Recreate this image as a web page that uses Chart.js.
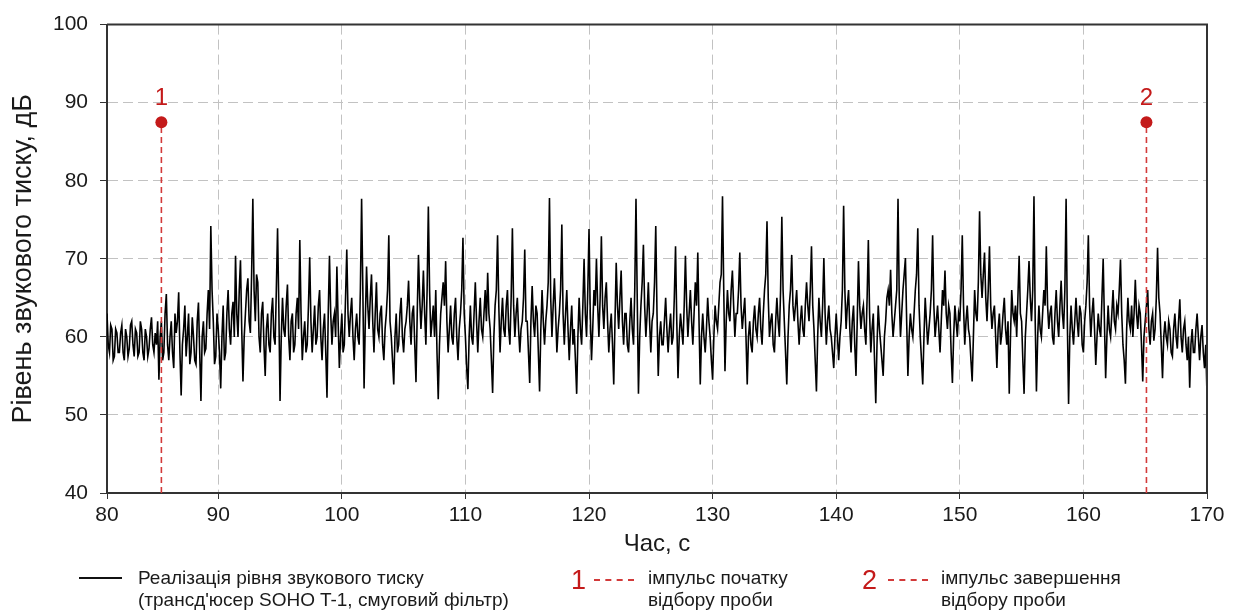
<!DOCTYPE html>
<html>
<head>
<meta charset="utf-8">
<script src="https://cdn.jsdelivr.net/npm/chart.js@4.4.1/dist/chart.umd.min.js"></script>
<style>
  html, body { margin: 0; padding: 0; background: #fff; }
  #wrap { position: relative; width: 1239px; height: 615px; font-family: "Liberation Sans", Arial, sans-serif; color: #1a1a1a; }
  #c { position: absolute; left: 0; top: 0; }
  .lg { position: absolute; font-size: 19px; line-height: 22px; white-space: nowrap; }
  .num { position: absolute; color: #c41a1a; font-size: 27px; line-height: 27px; }
  .dash { position: absolute; height: 0; border-top: 2px dashed #d23a3a; }
</style>
</head>
<body>
<div id="wrap">
  <canvas id="c" width="1239" height="615"></canvas>
  <div style="position:absolute; left:79px; top:577px; width:43px; height:2px; background:#111;"></div>
  <div class="lg" style="left:138px; top:567px;">Реалізація рівня звукового тиску<br>(трансд'юсер SOHO T-1, смуговий фільтр)</div>
  <div class="num" style="left:571px; top:567px;">1</div>
  <div class="dash" style="left:594px; top:579px; width:40px;"></div>
  <div class="lg" style="left:648px; top:567px;">імпульс початку<br>відбору проби</div>
  <div class="num" style="left:862px; top:567px;">2</div>
  <div class="dash" style="left:888px; top:579px; width:40px;"></div>
  <div class="lg" style="left:941px; top:567px;">імпульс завершення<br>відбору проби</div>
</div>
<script>
// ---- data ----
const tStart = 81;      // first sample time, s
const tStep = 0.1;      // sampling step, s
const splValues = [
  63, 59, 58, 61.5, 61, 57, 57.5, 61, 60.5, 58,
  58, 60.5, 61.5, 58, 57, 61, 60, 57.5, 58.5, 61.5,
  62, 59, 57.5, 61, 60.5, 57.5, 58, 62, 61, 58,
  57, 61, 60, 57.5, 58.5, 61, 62.5, 59, 58, 60.5,
  59, 62, 54.5, 60, 62, 57, 58, 63, 65.5, 59,
  57, 60, 62, 58, 56, 63, 60.5, 62, 65.7, 58,
  52.5, 59, 61, 64, 57.5, 60, 63, 56.5, 58, 62.5,
  60, 57, 56.5, 62, 64.4, 58, 51.8, 60, 62, 58,
  58.5, 63, 66, 61, 74.2, 66, 62, 56.5, 57.5, 63,
  61, 58, 53.4, 60, 64, 57, 58, 63, 66, 61,
  59, 63, 64.5, 60, 70.4, 63, 60, 66, 69.8, 61,
  54.3, 60, 63, 66, 67.5, 62, 60.5, 68, 77.7, 66,
  62, 68, 67, 60, 58, 63, 64.5, 59, 55, 61,
  63, 59, 58, 63, 65, 60, 59, 66, 73.9, 64,
  51.8, 60, 65, 61, 60, 64, 66.7, 60, 57, 62,
  63, 58, 59, 63, 65, 61, 72.4, 63, 57, 60,
  62, 58, 59, 64, 70.2, 62, 58, 61, 64, 59,
  60, 64, 66, 60, 57, 61, 63, 58, 52.2, 63,
  70.4, 63, 59, 62, 63, 60, 69, 62, 56, 60,
  63, 58, 59, 65, 71.2, 63, 60, 63, 65, 60,
  57, 61, 63, 60, 59, 66, 77.7, 66, 53.4, 62,
  69, 64, 61, 65, 68, 62, 58, 63, 67, 61,
  60, 63, 64, 59, 57, 61, 63, 66, 73, 62,
  60, 57, 53.9, 60, 63, 58, 59, 63, 65, 60,
  58, 61, 62, 64, 67.2, 62, 59, 63, 64, 59,
  54.2, 63, 70.5, 65, 61, 64, 68.5, 63, 59, 66,
  76.7, 66, 60, 62, 64, 60, 66, 58, 52, 59,
  63, 65, 67, 64, 69.7, 62, 58, 61, 64, 60,
  59, 63, 65, 60, 57, 61, 63, 66, 72.7, 63,
  60, 56, 53.3, 60, 64, 60, 59, 63, 67, 62,
  58, 62, 65, 61, 60, 63, 66, 62, 68.2, 63,
  61, 57, 52.8, 60, 64, 66, 73, 64, 58, 62,
  65, 61, 60, 64, 66, 61, 59, 65, 73.9, 64,
  60, 63, 65, 61, 58, 61, 62, 65, 71.2, 62,
  62, 58, 54.1, 62, 66.5, 62, 60, 64, 63, 58,
  53, 61, 66, 62, 59, 62, 64, 67, 77.8, 65,
  60, 64, 67.5, 63, 58, 61, 63, 66, 74.4, 63,
  59, 63, 66, 61, 57, 61, 64, 59, 61, 57,
  52.7, 60, 65, 61, 59, 64, 70, 63, 60, 66,
  73.8, 63, 57, 61, 66, 64, 70, 64, 60, 65,
  72.9, 64, 61, 65, 67, 62, 58, 61, 63, 59,
  53.9, 62, 69.5, 64, 61, 65, 68.5, 62, 59, 63,
  63, 59, 58, 62, 65, 61, 59, 66, 77.7, 65,
  52.7, 60, 64, 67, 71.8, 64, 60, 63, 67, 62,
  58, 62, 63, 67, 74.2, 63, 55, 60, 62, 59,
  59, 62, 65, 61, 58, 61, 63, 59, 60, 65,
  71.6, 62, 54.7, 60, 63, 61, 59, 64, 70.4, 64,
  60, 63, 66, 62, 59, 63, 67, 64, 70.8, 62,
  53.9, 60, 63, 60, 58, 61, 65, 62, 60, 57,
  54.5, 60, 64, 62, 61, 64, 67, 68, 78, 66,
  55.6, 62, 66, 63, 62, 66, 68.5, 64, 60, 63,
  63, 66, 70.8, 64, 61, 63, 65, 60, 53.9, 60,
  62, 59, 58, 62, 64, 61, 60, 63, 65, 61,
  59, 63, 66, 68, 74.8, 65, 60, 62, 63, 59,
  58, 62, 65, 62, 60, 66, 75.4, 66, 62, 58,
  53.9, 60, 64, 66, 70.5, 64, 62, 64, 66, 62,
  59, 62, 64, 61, 60, 64, 67, 64, 62, 66,
  71.6, 64, 61, 57, 53, 60, 65, 62, 60, 64,
  70.1, 63, 59, 62, 64, 61, 60, 58, 56, 60,
  63, 60, 57, 60, 62, 66, 76.8, 66, 61, 64,
  66, 61, 58, 62, 64, 59, 55, 62, 69.7, 64,
  61, 63, 64, 61, 59, 65, 72.4, 63, 58, 61,
  63, 57, 51.5, 59, 64, 61, 59, 57, 55, 60,
  62, 65, 66, 64, 68.6, 63, 60, 62, 64, 66,
  77.7, 65, 60, 63, 66, 68, 70.1, 62, 55, 60,
  63, 61, 60, 63, 66, 68, 73.9, 64, 60, 57,
  53.9, 60, 65, 62, 59, 61, 63, 66, 73, 64,
  60, 62, 64, 61, 58, 62, 66, 64, 68.5, 63,
  61, 64, 63, 58, 54.1, 60, 64, 62, 60, 63,
  62, 66, 73, 64, 59, 62, 64, 61, 60, 57,
  54.3, 60, 66, 63, 62, 67, 76.1, 68, 65, 68,
  70.8, 65, 62, 66, 71.6, 64, 61, 63, 64, 60,
  56, 61, 63, 59, 60.5, 63, 65, 61, 59, 62,
  52.7, 60, 66, 63, 62, 64, 60, 65, 70.4, 63,
  62, 57, 52.7, 60, 63, 66, 69.7, 65, 62, 66,
  78, 62, 53, 60, 64, 61, 60, 63, 66, 64,
  71.6, 64, 61, 63, 64, 60, 59, 63, 66, 62,
  60, 64, 67.2, 63, 61, 66, 77.7, 62, 51.4, 60,
  64, 61, 59, 62, 65, 62, 60, 64, 63, 59,
  58, 62, 64, 67, 73, 64, 60, 63, 65, 61,
  56.4, 60, 63, 61, 60, 65, 70, 62, 54.7, 60,
  64, 61, 60, 63, 66, 62, 61, 64, 63, 66,
  69.9, 63, 59, 57, 54, 61, 65, 62, 61, 64,
  60, 63, 67.3, 63, 61, 64, 63, 59, 54.3, 60,
  62, 64, 66, 61, 59, 62, 63, 59.5, 61, 65,
  71.4, 65, 63, 59, 54.7, 60, 62, 60, 59, 62,
  61, 58, 57.5, 61, 63, 60, 58.5, 62, 64.8, 60,
  58, 61, 62, 59, 57, 60, 53.5, 59, 61, 58,
  58, 61, 63, 60, 57, 60, 61.5, 58, 56, 59,
  52.5
];
const markerTimes = [85.4, 165.1];
const markerLevel = 87.5;
const markerNames = ['1', '2'];
const xTickLabels = ['80', '90', '100', '110', '120', '130', '140', '150', '160', '170'];
const yMin = 40, yMax = 100;
const xMin = 81, xMax = 170;

const RED = '#c41a1a';
const FONT = '"Liberation Sans", Arial, sans-serif';
const signal = splValues.map((v, i) => ({ x: +(tStart + i * tStep).toFixed(2), y: v }));

const markerSets = markerTimes.map(t => ({
  data: [{ x: t, y: yMin }, { x: t, y: markerLevel }],
  borderColor: '#d23a3a',
  borderWidth: 1.6,
  borderDash: [6, 4],
  pointRadius: [0, 6],
  pointHoverRadius: [0, 6],
  pointBackgroundColor: RED,
  pointBorderColor: RED,
  pointBorderWidth: 0,
  order: 0
}));

const frame = {
  id: 'frame',
  afterDraw(chart) {
    const { ctx, chartArea: a } = chart;
    ctx.save();
    ctx.strokeStyle = '#333';
    ctx.lineWidth = 2;
    ctx.beginPath();
    ctx.moveTo(a.left, a.top);
    ctx.lineTo(a.right, a.top);
    ctx.lineTo(a.right, a.bottom);
    ctx.stroke();
    ctx.fillStyle = RED;
    ctx.font = '24px ' + FONT;
    ctx.textAlign = 'center';
    ctx.textBaseline = 'alphabetic';
    markerTimes.forEach((t, i) => {
      const px = chart.scales.x.getPixelForValue(t);
      const py = chart.scales.y.getPixelForValue(markerLevel);
      ctx.fillText(markerNames[i], px, py - 17);
    });
    ctx.restore();
  }
};

new Chart(document.getElementById('c'), {
  type: 'line',
  data: {
    datasets: [
      {
        data: signal,
        borderColor: '#000',
        borderWidth: 1.6,
        pointRadius: 0,
        tension: 0,
        order: 1
      },
      ...markerSets
    ]
  },
  options: {
    responsive: false,
    animation: false,
    events: [],
    layout: { padding: { left: 0, right: 32, top: 19, bottom: 50 } },
    plugins: { legend: { display: false }, tooltip: { enabled: false } },
    scales: {
      x: {
        type: 'linear',
        min: xMin,
        max: xMax,
        ticks: {
          stepSize: 10,
          font: { size: 21, family: FONT },
          color: '#1a1a1a',
          padding: 4,
          maxRotation: 0,
          callback: (v, i) => xTickLabels[i]
        },
        grid: { color: '#c2c2c2', lineWidth: 1, tickLength: 6, tickColor: '#333', tickBorderDash: [] },
        border: { display: true, color: '#333', width: 2, dash: [10, 5] },
        title: {
          display: true, text: 'Час, с', color: '#1a1a1a',
          font: { size: 24, family: FONT },
          padding: { top: 0, bottom: 6 }
        },
        afterFit: s => { s.height = 72; }
      },
      y: {
        min: yMin,
        max: yMax,
        ticks: {
          stepSize: 10,
          font: { size: 21, family: FONT },
          color: '#1a1a1a',
          padding: 12
        },
        grid: { color: '#c2c2c2', lineWidth: 1, tickLength: 7, tickColor: '#333', tickBorderDash: [] },
        border: { display: true, color: '#333', width: 2, dash: [10, 5] },
        title: {
          display: true, text: 'Рівень звукового тиску, дБ', color: '#1a1a1a',
          font: { size: 27, family: FONT },
          padding: { top: 7, bottom: 0 }
        },
        afterFit: s => { s.width = 107; }
      }
    }
  },
  plugins: [frame]
});
</script>
</body>
</html>
